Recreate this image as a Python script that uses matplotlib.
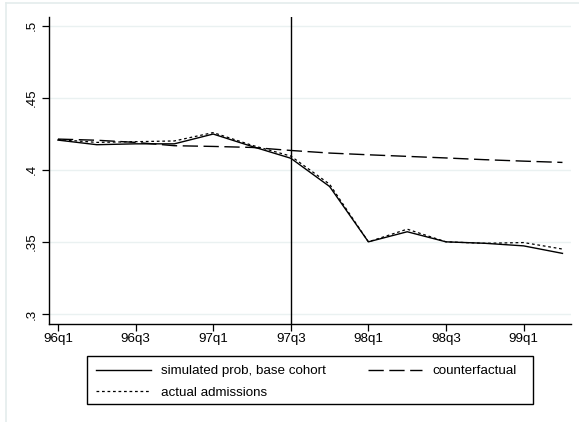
import matplotlib
matplotlib.use('Agg')
import matplotlib.pyplot as plt
from matplotlib.lines import Line2D
from matplotlib.patches import Rectangle

plt.rcParams['font.family'] = ['Liberation Sans', 'DejaVu Sans']

quarters = ['96q1', '96q2', '96q3', '96q4', '97q1', '97q2', '97q3',
            '97q4', '98q1', '98q2', '98q3', '98q4', '99q1', '99q2']
simulated = [0.4206, 0.4174, 0.418, 0.418, 0.4248, 0.4162, 0.408,
             0.3884, 0.350, 0.357, 0.350, 0.349, 0.3472, 0.342]
actual = [0.421, 0.419, 0.4195, 0.420, 0.4258, 0.417, 0.4095,
          0.390, 0.350, 0.3588, 0.350, 0.349, 0.3495, 0.345]
counterfactual = [0.4213, 0.4205, 0.419, 0.4167, 0.4162, 0.4155, 0.4134,
                  0.4116, 0.4104, 0.4093, 0.4082, 0.407, 0.406, 0.4051]
tick_quarters = ['96q1', '96q3', '97q1', '97q3', '98q1', '98q3', '99q1']
y_ticks = [0.3, 0.35, 0.4, 0.45, 0.5]
y_tick_labels = ['.3', '.35', '.4', '.45', '.5']
break_quarter = '97q3'

W, H = 579, 422
fig = plt.figure(figsize=(W / 100, H / 100), dpi=100)
fig.patch.set_facecolor('white')

# faint outer frame
fig.add_artist(Line2D([6 / W, 6 / W], [0, 1 - 3 / H], color='#e4ecec', lw=1.2))
fig.add_artist(Line2D([6 / W, 1], [1 - 3 / H, 1 - 3 / H], color='#e4ecec', lw=1.2))

ax = fig.add_axes([49 / W, (H - 324) / H, (571 - 49) / W, (324 - 17) / H])

x = list(range(len(quarters)))
l1, = ax.plot(x, simulated, color='black', lw=1.0,
              label='simulated prob, base cohort')
l3, = ax.plot(x, counterfactual, color='black', lw=1.0, dashes=(11, 4),
              label='counterfactual')
l2, = ax.plot(x, actual, color='black', lw=0.9, dashes=(2.2, 2.2),
              label='actual admissions')

ax.axvline(quarters.index(break_quarter), color='black', lw=1.0)

for yv in y_ticks:
    ax.axhline(yv, color='#eaf1f1', lw=1.0, zorder=0)

ax.set_xlim(-0.23, 13.22)
ax.set_ylim(0.293, 0.506)
ax.set_xticks([quarters.index(q) for q in tick_quarters])
ax.set_xticklabels(tick_quarters, fontsize=9.6)
ax.set_yticks(y_ticks)
ax.set_yticklabels(y_tick_labels, fontsize=9.6, rotation=90, va='center')
ax.tick_params(axis='both', length=5, width=0.9, color='black')
ax.tick_params(axis='x', pad=1.5)
ax.tick_params(axis='y', pad=3)

for side in ['top', 'right']:
    ax.spines[side].set_visible(False)
for side in ['left', 'bottom']:
    ax.spines[side].set_linewidth(1.0)

# legend box drawn separately so its width matches the original
fig.add_artist(Rectangle((87 / W, 1 - 404 / H), (533 - 87) / W, 48 / H,
                         transform=fig.transFigure, facecolor='white',
                         edgecolor='black', lw=1.0))
leg = fig.legend([l1, l2, l3],
                 ['simulated prob, base cohort', 'actual admissions', 'counterfactual'],
                 ncol=2, loc='upper left',
                 bbox_to_anchor=(87 / W, 1 - 356 / H),
                 fontsize=9.6, frameon=False,
                 handlelength=4.1, handletextpad=0.75,
                 columnspacing=3.15, borderpad=0.68, labelspacing=0.68,
                 borderaxespad=0)

fig.savefig('out.png', dpi=100)
